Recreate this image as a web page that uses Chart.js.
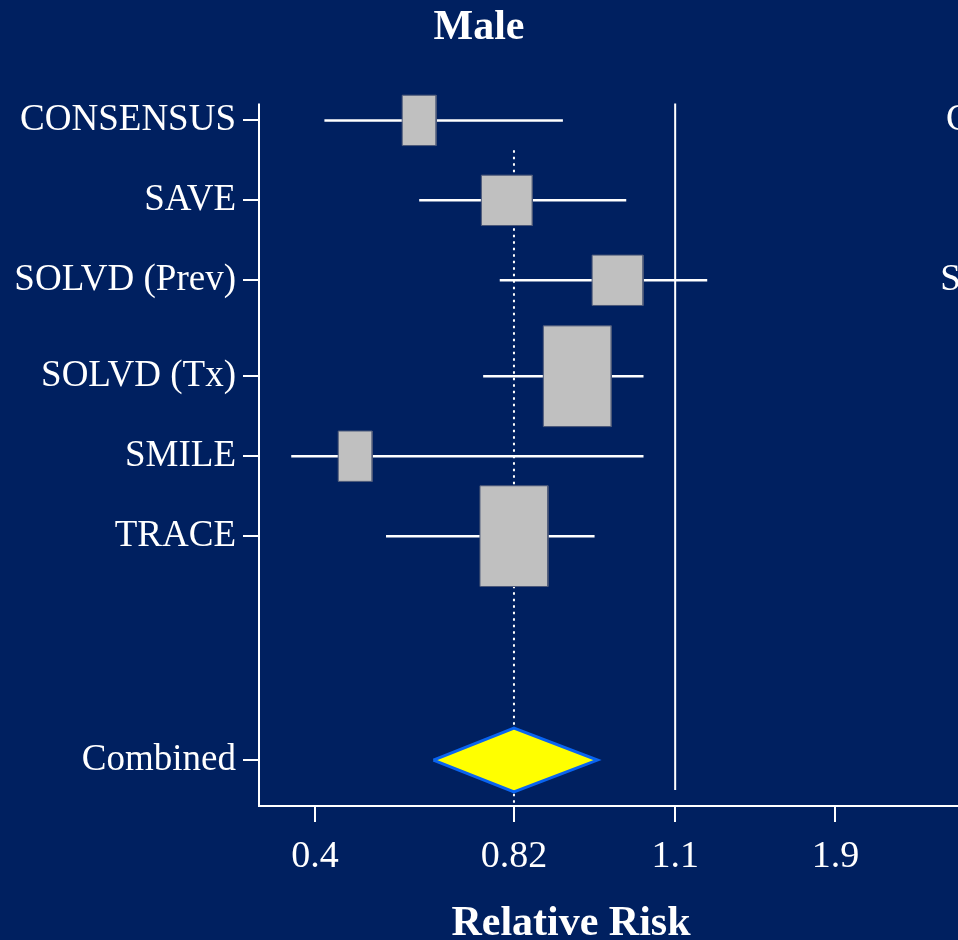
<!DOCTYPE html>
<html>
<head>
<meta charset="utf-8">
<script src="https://cdn.jsdelivr.net/npm/chart.js@4.4.0/dist/chart.umd.min.js"></script>
<style>
  html, body { margin: 0; padding: 0; background: #002060; overflow: hidden; }
  #wrap { position: relative; width: 958px; height: 940px; }
</style>
</head>
<body>
<div id="wrap"><canvas id="forest"></canvas></div>
<script>
// studies, top to bottom
const studies = ['CONSENSUS', 'SAVE', 'SOLVD (Prev)', 'SOLVD (Tx)', 'SMILE', 'TRACE'];
const rrEst = [0.62, 0.805, 1.0, 0.93, 0.485, 0.82];
const rrLow = [0.42, 0.62, 0.79, 0.755, 0.35, 0.55];
const rrHigh = [0.905, 1.015, 1.26, 1.045, 1.045, 0.96];
// box size (study weight), across and up
const weightX = [1, 1.5, 1.5, 2, 1, 2];
const weightY = [1, 1, 1, 2, 1, 2];
const rowPos = [1, 2, 3, 4.2, 5.2, 6.2];

const combinedLabel = 'Combined';
const combinedEst = 0.82;
const combinedLow = 0.65;
const combinedHigh = 0.965;
const combinedRow = 9;

const tickValues = [0.4, 0.82, 1.1, 1.9];
const tickLabels = ['0.4', '0.82', '1.1', '1.9'];
const tickSpots = [1, 2, 2.81, 3.615];
const nullLine = 1.1;
const refLine = 0.82;

const yLabels = studies.concat([combinedLabel]);
const yTicks = rowPos.concat([combinedRow]);

const serif = "'Liberation Serif', 'Times New Roman', serif";
const white = '#ffffff';

// the axis is uneven, so map RR onto it piece by piece
function toU(rr) {
  let i = 0;
  while (i < tickValues.length - 2 && rr > tickValues[i + 1]) i++;
  const t = (rr - tickValues[i]) / (tickValues[i + 1] - tickValues[i]);
  return tickSpots[i] + t * (tickSpots[i + 1] - tickSpots[i]);
}

const halfW = 0.0854;
const halfH = 0.315;
const xMin = 0.719, xMax = 4.231;
// plot area reaches a bit above the axis line so the first box is not cut
const yTop = 0.6625, yAxisTop = 0.7875, yMax = 9.575;

var datasets = [];

// combined diamond
datasets.push({
  data: [
    {x: toU(combinedLow), y: combinedRow},
    {x: toU(combinedEst), y: combinedRow - 0.4},
    {x: toU(combinedHigh), y: combinedRow},
    {x: toU(combinedEst), y: combinedRow + 0.4},
    {x: toU(combinedLow), y: combinedRow}
  ],
  fill: 'shape',
  backgroundColor: '#ffff00',
  borderColor: '#0a64f0',
  borderWidth: 3
});

// study boxes
studies.forEach((s, i) => {
  var x = toU(rrEst[i]), y = rowPos[i];
  var w = halfW * weightX[i], h = halfH * weightY[i];
  datasets.push({
    data: [
      {x: x - w, y: y - h}, {x: x + w, y: y - h},
      {x: x + w, y: y + h}, {x: x - w, y: y + h},
      {x: x - w, y: y - h}
    ],
    fill: 'shape',
    backgroundColor: '#c0c0c0',
    borderColor: '#4b5878',
    borderWidth: 1
  });
});

// confidence intervals
studies.forEach((s, i) => {
  datasets.push({
    data: [{x: toU(rrLow[i]), y: rowPos[i]}, {x: toU(rrHigh[i]), y: rowPos[i]}],
    borderColor: white,
    borderWidth: 2.5
  });
});

// dotted line at the pooled estimate, solid line further right
datasets.push({
  data: [{x: toU(refLine), y: 1.375}, {x: toU(refLine), y: yMax}],
  borderColor: white,
  borderWidth: 2,
  borderDash: [2.5, 4]
});
datasets.push({
  data: [{x: toU(nullLine), y: yAxisTop}, {x: toU(nullLine), y: 9.375}],
  borderColor: white,
  borderWidth: 2
});
// left axis line
datasets.push({
  data: [{x: xMin, y: yAxisTop}, {x: xMin, y: yMax}],
  borderColor: white,
  borderWidth: 2
});

datasets.forEach(d => { d.clip = false; });

const extraText = {
  id: 'extraText',
  afterDraw(chart) {
    var ctx = chart.ctx;
    var y = chart.scales.y;
    ctx.save();
    ctx.fillStyle = white;
    ctx.font = 'bold 42px ' + serif;
    ctx.textAlign = 'center';
    ctx.textBaseline = 'alphabetic';
    ctx.fillText('Relative Risk', 571, 935);
    // labels of the next panel, cut by the edge
    ctx.font = '37px ' + serif;
    ctx.textAlign = 'right';
    ctx.textBaseline = 'middle';
    yLabels.forEach((lab, i) => {
      ctx.fillText(lab, 1162, y.getPixelForValue(yTicks[i]));
    });
    ctx.restore();
  }
};

new Chart(document.getElementById('forest'), {
  type: 'line',
  data: { datasets: datasets },
  options: {
    responsive: true,
    maintainAspectRatio: false,
    animation: false,
    layout: { padding: 0 },
    elements: {
      point: { radius: 0, hoverRadius: 0 },
      line: { tension: 0 }
    },
    plugins: {
      legend: { display: false },
      tooltip: { enabled: false },
      title: {
        display: true,
        text: 'Male',
        color: white,
        font: { family: serif, size: 42, weight: 'bold', lineHeight: 1.2 },
        padding: { top: 3, bottom: 40 }
      }
    },
    scales: {
      x: {
        type: 'linear',
        bounds: 'data',
        min: xMin,
        max: xMax,
        afterBuildTicks: scale => { scale.ticks = tickSpots.map(v => ({value: v})); },
        afterFit: scale => { scale.height = 134; },
        ticks: {
          callback: (v, i) => tickLabels[i],
          color: white,
          font: { family: serif, size: 38 },
          padding: 12,
          maxRotation: 0,
          autoSkip: false
        },
        grid: { drawOnChartArea: false, color: white, lineWidth: 2, tickLength: 16 },
        border: { color: white, width: 2 }
      },
      y: {
        type: 'linear',
        reverse: true,
        bounds: 'data',
        min: yTop,
        max: yMax,
        afterBuildTicks: scale => { scale.ticks = yTicks.map(v => ({value: v})); },
        afterFit: scale => { scale.width = 259; },
        ticks: {
          callback: (v, i) => yLabels[i],
          color: white,
          font: { family: serif, size: 37 },
          padding: 7,
          autoSkip: false
        },
        grid: { drawOnChartArea: false, color: white, lineWidth: 2, tickLength: 16 },
        border: { display: false }
      }
    }
  },
  plugins: [extraText]
});
</script>
</body>
</html>
